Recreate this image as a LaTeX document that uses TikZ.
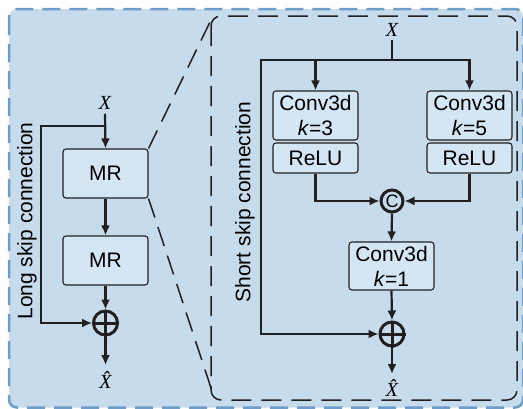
\documentclass[tikz,border=0pt]{standalone}
\usepackage{fontspec}
\setmainfont{Liberation Sans}
\newfontfamily\serifx{Liberation Serif}
\usetikzlibrary{arrows.meta}
\definecolor{bgblue}{HTML}{C6DBEC}
\definecolor{boxblue}{HTML}{D4E5F3}
\definecolor{dashblue}{HTML}{6F9CC8}
\definecolor{ink}{HTML}{231F20}
\tikzset{
  arr/.style={-{Latex[length=10pt,width=9pt]}, line width=2.2pt, draw=ink},
  ln/.style={line width=2.2pt, draw=ink},
  blk/.style={draw=ink, line width=1.1pt, fill=boxblue, rounded corners=3pt, minimum width=85pt, inner sep=0pt, align=center, font=\fontsize{21}{25}\selectfont},
  opc/.style={circle, draw=ink, line width=3pt, minimum size=24pt, inner sep=0pt},
  lbl/.style={font=\fontsize{21}{24}\selectfont, inner sep=0pt},
  varx/.style={font=\fontsize{20}{22}\selectfont\serifx\itshape, inner sep=0pt},
  zoomln/.style={draw=ink, line width=1.5pt, dash pattern=on 20pt off 10pt},
}
\begin{document}
\begin{tikzpicture}[x=1pt,y=-1pt]
\useasboundingbox (0,0) rectangle (523,408);
% outer frame
\draw[fill=bgblue, draw=dashblue, line width=2.5pt, dash pattern=on 18pt off 9pt, rounded corners=8pt] (9,9) rectangle (523,407.5);
% inner frame
\draw[draw=ink, line width=1.5pt, dash pattern=on 20pt off 10pt, rounded corners=10pt] (211,16) rectangle (517,400);

% ---------- left part ----------
\node[varx] (x1) at (105,103) {X};
\node[blk, minimum height=49pt] (mr1) at (105.5,173.5) {MR};
\node[blk, minimum height=49pt] (mr2) at (105.5,260.5) {MR};
\node[opc] (p1) at (105.5,323) {};
\draw[line width=3pt, draw=ink] (p1.north) -- (p1.south) (p1.west) -- (p1.east);
\node[varx] (xh1) at (105.5,380) {\^X};
\coordinate (s1) at (105.5,126);
\coordinate (e1) at (105.5,365);
\draw[arr] (x1.south) ++(0,4) -- (mr1.north);
\draw[arr] (mr1.south) -- (mr2.north);
\draw[arr] (mr2.south) -- (p1.north);
\draw[arr] (p1.south) -- (e1);
\draw[arr] (s1) -- ++(-64.5,0) |- (p1.west);
\node[lbl, rotate=90] (long) at (27,221) {Long skip connection};

% zoom lines
\coordinate (zt) at (210,22);
\coordinate (zb) at (213,394);
\draw[zoomln] (mr1.north east) -- (zt);
\draw[zoomln] (mr1.south east) -- (zb);

% ---------- right part ----------
\node[varx] (x2) at (392,30) {X};
\coordinate (j) at (392,60);
\node[blk, minimum height=49pt] (c3) at (315.5,115.5) {Conv3d\\\textit{k}=3};
\node[blk, minimum height=30pt] (r3) at (315.5,158) {ReLU};
\node[blk, minimum height=49pt] (c5) at (469.5,115.5) {Conv3d\\\textit{k}=5};
\node[blk, minimum height=30pt] (r5) at (469.5,158) {ReLU};
\node[circle, draw=ink, line width=3pt, minimum size=22pt, inner sep=0pt, font=\fontsize{18}{20}\selectfont] (cc) at (392,201) {C};
\node[blk, minimum height=48pt] (c1) at (391.5,266) {Conv3d\\\textit{k}=1};
\node[opc] (p2) at (392,334) {};
\draw[line width=3pt, draw=ink] (p2.north) -- (p2.south) (p2.west) -- (p2.east);
\node[varx] (xh2) at (392,388) {\^X};
\coordinate (e2) at (392,374);

\draw[ln] ([yshift=-3pt]x2.south) -- (j);
\draw[arr] (j) -| (c3.north);
\draw[arr] (j) -| (c5.north);
\draw[arr] (r3.south) |- (cc.west);
\draw[arr] (r5.south) |- (cc.east);
\draw[arr] (cc.south) -- (c1.north);
\draw[arr] (c1.south) -- (p2.north);
\draw[arr] (p2.south) -- (e2);
\draw[arr] (j) -- ++(-131,0) |- (p2.west);
\node[lbl, rotate=90] (short) at (245,202) {Short skip connection};
\end{tikzpicture}
\end{document}
